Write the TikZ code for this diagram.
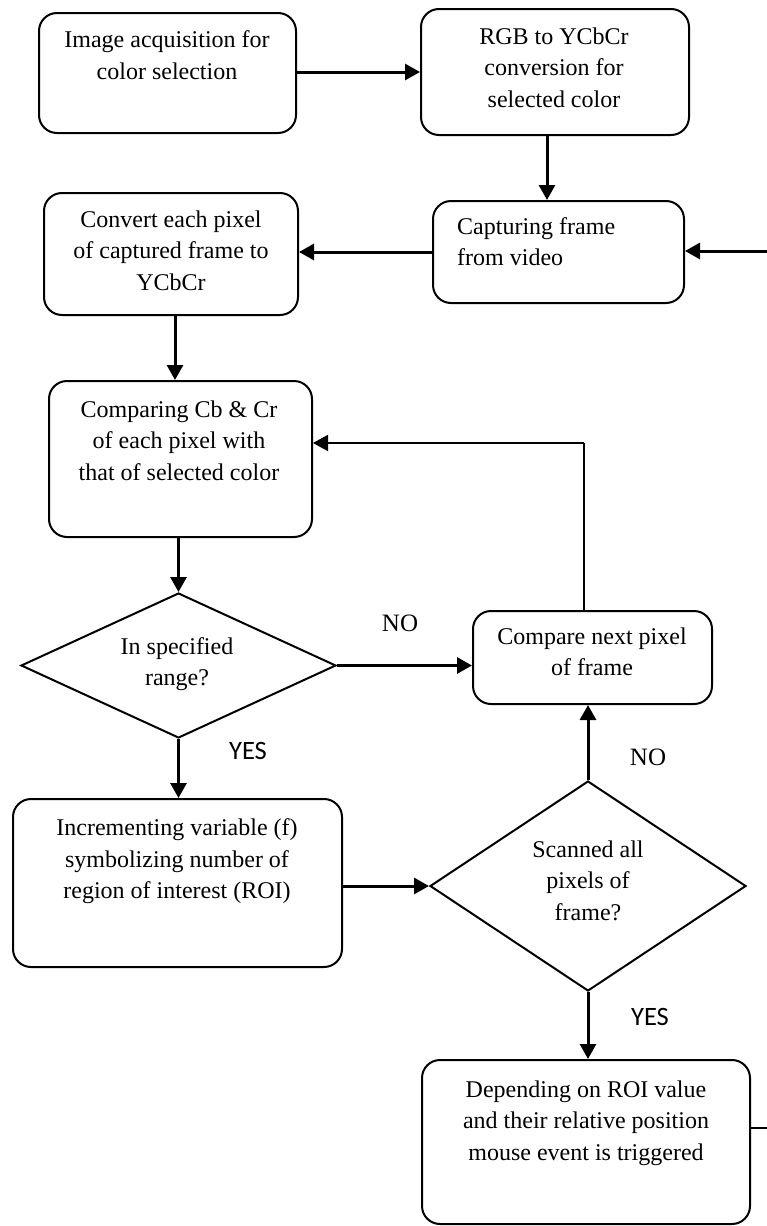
\documentclass[tikz,border=0pt]{standalone}
\usepackage{fontspec}
\setmainfont{Liberation Serif}
\newfontfamily\yesfont{Carlito}
\usetikzlibrary{arrows.meta,shapes.geometric}
\begin{document}
\begin{tikzpicture}[x=1pt,y=-1pt,
  box/.style={draw,line width=2pt,rounded corners=18pt,inner sep=0pt},
  dia/.style={draw,line width=2pt,diamond,inner sep=0pt},
  txt/.style={font=\fontsize{24}{31.5}\selectfont,align=center,inner sep=0pt,
    execute at begin node=\strut,execute at end node=\strut},
  lbl/.style={font=\fontsize{25}{30}\selectfont,inner sep=0pt},
  ylbl/.style={font=\yesfont\fontsize{26.5}{30}\selectfont,inner sep=0pt},
  arr/.style={line width=3pt,-{Triangle[length=15pt,width=16pt]}},
  fb/.style={line width=2pt},
  fbarr/.style={line width=2pt,-{Triangle[length=15pt,width=16pt]}},
  plain/.style={line width=2.5pt}]
\useasboundingbox (0,0) rectangle (767,1226);
% boxes
\node[box,minimum width=257pt,minimum height=120pt] (b1) at (167.5,73) {};
\node[box,minimum width=268pt,minimum height=126pt] (b2) at (555,72) {};
\node[box,minimum width=251pt,minimum height=102pt] (b3) at (558.5,252) {};
\node[box,minimum width=254pt,minimum height=122pt] (b4) at (171,254) {};
\node[box,minimum width=263pt,minimum height=156pt] (b5) at (180.5,459) {};
\node[dia,minimum width=315pt,minimum height=145pt] (d1) at (178.5,665.5) {};
\node[box,minimum width=239pt,minimum height=93pt] (b7) at (592.5,657.5) {};
\node[box,minimum width=329pt,minimum height=168pt] (b9) at (177.5,883) {};
\node[dia,minimum width=316pt,minimum height=210pt] (d2) at (588,886) {};
\node[box,minimum width=328pt,minimum height=164pt] (b10) at (586,1142) {};
% texts
\node[txt] (t1) at (167,59.7) {Image acquisition for\\color selection};
\node[txt] (t2) at (554,72.2) {RGB to YCbCr\\conversion for\\selected color};
\node[txt,align=left,anchor=west] (t3) at (457,246.2) {Capturing frame\\from video};
\node[txt] (t4) at (171,255.2) {Convert each pixel\\of captured frame to\\YCbCr};
\node[txt] (t5) at (179,445.2) {Comparing Cb \& Cr\\of each pixel with\\that of selected color};
\node[txt] (td1) at (177,666.2) {In specified\\range?};
\node[txt] (t7) at (592,656.2) {Compare next pixel\\of frame};
\node[txt] (t9) at (177,863.7) {Incrementing variable (f)\\symbolizing number of\\region of interest (ROI)};
\node[txt] (td2) at (588,885.2) {Scanned all\\pixels of\\frame?};
\node[txt] (t10) at (586,1125.2) {Depending on ROI value\\and their relative position\\mouse event is triggered};
% labels
\node[lbl] (no1) at (400,623) {NO};
\node[lbl] (no2) at (648,757) {NO};
\node[ylbl] (yes1) at (248,751) {YES};
\node[ylbl] (yes2) at (650,1017) {YES};
% coordinates
\coordinate (r1) at (767,251);
\coordinate (r2) at (767,1128);
\coordinate (c1) at (584,443);
% connectors
\draw[arr] (b1.east |- b2.west) -- (b2.west);
\draw[arr] ([xshift=-8pt]b2.south) -- ([xshift=-8pt]b2.south |- b3.north);
\draw[arr] (r1) -- (r1 -| b3.east);
\draw[arr] (b3.west) -- (b3.west -| b4.east);
\draw[arr] ([xshift=4pt]b4.south) -- ([xshift=4pt]b4.south |- b5.north);
\draw[arr] (d1.north |- b5.south) -- (d1.north);
\draw[arr] (d1.east) -- (d1.east -| b7.west);
\draw[fb] ([xshift=-8.5pt]b7.north) -- (c1);
\draw[fbarr] (c1) -- (c1 -| b5.east);
\draw[arr] (d1.south) -- (d1.south |- b9.north);
\draw[arr] (b9.east |- d2.west) -- (d2.west);
\draw[arr] (d2.north) -- (d2.north |- b7.south);
\draw[arr] (d2.south) -- (d2.south |- b10.north);
\draw[plain] (r2 -| b10.east) -- (r2);
\end{tikzpicture}
\end{document}
